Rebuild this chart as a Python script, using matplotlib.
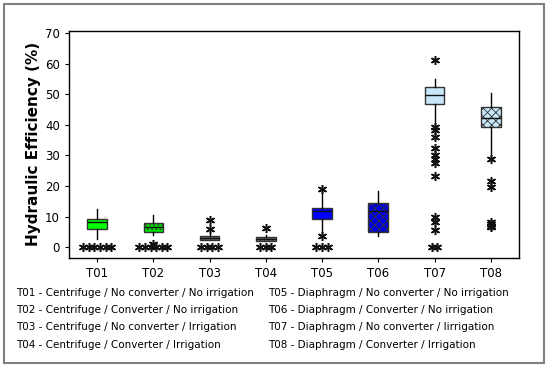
import numpy as np
import matplotlib.pyplot as plt
from matplotlib.patches import Rectangle

plt.rcParams['font.family'] = 'DejaVu Sans'
plt.rcParams['hatch.linewidth'] = 0.6

# treatments and box statistics (%)
labels = ['T01', 'T02', 'T03', 'T04', 'T05', 'T06', 'T07', 'T08']
q1 = [6.0, 5.1, 2.3, 2.0, 9.2, 4.8, 46.9, 39.3]
med = [8.1, 6.6, 3.0, 2.7, 11.9, 11.9, 49.7, 42.4]
q3 = [9.3, 7.8, 3.8, 3.4, 12.7, 14.4, 52.3, 45.7]
whislo = [2.6, 3.9, 2.3, 2.0, 3.8, 3.6, 40.2, 28.7]
whishi = [12.4, 10.5, 4.5, 4.0, 18.9, 18.4, 54.9, 50.3]

# outliers per treatment
outliers = [
    [0, 0, 0, 0, 0, 0],
    [0, 0, 0, 0, 0, 0, 1.0],
    [0, 0, 0, 0, 5.8, 8.8],
    [0, 0, 0, 6.3],
    [0, 0, 0, 3.8, 18.9],
    [],
    [0, 0, 5.6, 8.3, 9.9, 23.3, 27.4, 29.0, 30.1, 32.3, 36.2, 38.3, 39.4, 61.4],
    [6.5, 7.0, 7.6, 8.3, 19.7, 21.6, 28.7],
]

colors = ['#00ff00', '#00e000', '#607060', '#707870',
          '#0000ff', '#0000e8', '#c8e8fa', '#c8e8fa']
hatches = [None, '....', None, '||||', None, 'xxxx', None, 'xxxx']

legend_left = ['T01 - Centrifuge / No converter / No irrigation',
               'T02 - Centrifuge / Converter / No irrigation',
               'T03 - Centrifuge / No converter / Irrigation',
               'T04 - Centrifuge / Converter / Irrigation']
legend_right = ['T05 - Diaphragm / No converter / No irrigation',
                'T06 - Diaphragm / Converter / No irrigation',
                'T07 - Diaphragm / No converter / Iirrigation',
                'T08 - Diaphragm / Converter / Irrigation']

fig = plt.figure(figsize=(5.5, 3.69), dpi=100)
ax = fig.add_axes([0.1255, 0.302, 0.818, 0.6146])

stats = []
for i in range(len(labels)):
    stats.append(dict(med=med[i], q1=q1[i], q3=q3[i],
                      whislo=whislo[i], whishi=whishi[i], fliers=[]))

pos = np.arange(1, len(labels) + 1)
bp = ax.bxp(stats, positions=pos, widths=0.35, patch_artist=True,
            showcaps=False, showfliers=False,
            boxprops=dict(edgecolor='#333333', linewidth=1.0),
            whiskerprops=dict(color='black', linewidth=1.0),
            medianprops=dict(color='#111111', linewidth=1.0))
for box, c, h in zip(bp['boxes'], colors, hatches):
    box.set_facecolor(c)
    if h:
        box.set_hatch(h)

# outliers, duplicates placed side by side
for p, vals in zip(pos, outliers):
    vals = np.array(vals)
    for v in np.unique(vals):
        n = np.sum(vals == v)
        xs = p + (np.arange(n) - (n - 1) / 2) * 0.1
        ax.plot(xs, [v] * n, linestyle='none', marker=(6, 2, 0),
                markersize=6.5, markeredgewidth=1.1, color='#111111')

ax.set_xlim(0.5, 8.5)
ax.set_ylim(-3.4, 70.8)
ax.set_xticks(pos)
ax.set_xticklabels(labels)
ax.set_yticks(np.arange(0, 71, 10))
ax.tick_params(direction='out', length=3, labelsize=8.5, colors='black')
for s in ax.spines.values():
    s.set_linewidth(1.0)
ax.set_ylabel('Hydraulic Efficiency (%)', fontsize=11, fontweight='bold',
              labelpad=3)

for k in range(4):
    y = (369 - 293 - k * 17.2) / 369
    fig.text(16 / 550, y, legend_left[k], fontsize=7.45, va='center')
    fig.text(268 / 550, y, legend_right[k], fontsize=7.45, va='center')

fig.patches.append(Rectangle((4 / 550, 6 / 369), 539.5 / 550, 359 / 369,
                             transform=fig.transFigure, fill=False,
                             edgecolor='#808080', linewidth=1.5))

fig.savefig('out.png', dpi=100)
